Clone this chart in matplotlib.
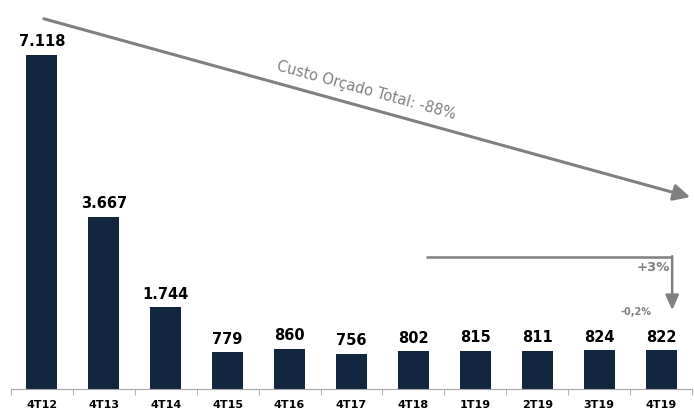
import matplotlib.pyplot as plt
import numpy as np

periods = ["4T12", "4T13", "4T14", "4T15", "4T16", "4T17", "4T18", "1T19", "2T19", "3T19", "4T19"]
custo = [7118, 3667, 1744, 779, 860, 756, 802, 815, 811, 824, 822]
labels = ["7.118", "3.667", "1.744", "779", "860", "756", "802", "815", "811", "824", "822"]

bar_color = "#13263f"
gray = "#808080"

fig = plt.figure(figsize=(6.94, 4.11), dpi=100)
ax = fig.add_axes((11 / 694, 22 / 411, 681 / 694, 389 / 411))

x = np.arange(len(periods))
ax.bar(x, custo, width=0.5, color=bar_color)

for xi, v, lab in zip(x, custo, labels):
    ax.text(xi, v + 120, lab, ha="center", va="bottom", fontsize=10.5,
            fontweight="bold", color="black")

ax.set_xlim(-0.5, len(periods) - 0.5)
ax.set_ylim(0, 8290)
ax.set_yticks([])
ax.set_xticks(x)
ax.set_xticklabels(periods, fontsize=8, fontweight="bold")
ax.set_xticks(np.arange(-0.5, len(periods)), minor=True)
ax.tick_params(axis="x", which="major", length=0, pad=8)
ax.tick_params(axis="x", which="minor", length=4, color="#a6a6a6", direction="out")
for s in ["top", "right", "left"]:
    ax.spines[s].set_visible(False)
ax.spines["bottom"].set_color("#a6a6a6")

# seta da queda total
ax.annotate("", xy=(10.47, 4090), xytext=(0.03, 7890),
            arrowprops=dict(arrowstyle="-|>,head_length=1.0,head_width=0.5",
                            color=gray, lw=2.2, shrinkA=0, shrinkB=0))
ax.text(0.522, 0.768, "Custo Orçado Total: -88%", transform=ax.transAxes,
        rotation=-15.4, rotation_mode="anchor", ha="center", va="center",
        fontsize=10.5, color=gray)

# seta do ultimo ano
ax.plot([6.2, 10.18], [2815, 2815], color=gray, lw=1.8, solid_capstyle="butt")
ax.annotate("", xy=(10.18, 1680), xytext=(10.18, 2830),
            arrowprops=dict(arrowstyle="-|>,head_length=0.9,head_width=0.4",
                            color=gray, lw=1.8, shrinkA=0, shrinkB=0))
ax.text(9.87, 2580, "+3%", ha="center", va="center", fontsize=9.5,
        fontweight="bold", color=gray)
ax.text(9.6, 1640, "-0,2%", ha="center", va="center", fontsize=7,
        fontweight="bold", color=gray)

fig.savefig("out.png", dpi=100)
